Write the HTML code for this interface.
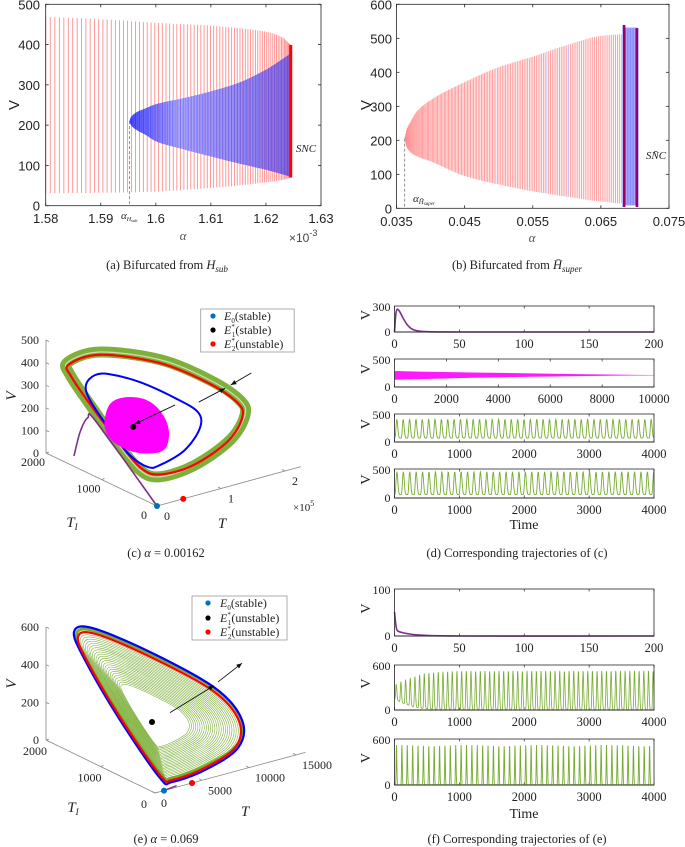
<!DOCTYPE html>
<html><head><meta charset="utf-8"><style>
html,body{margin:0;padding:0;background:#fff}
svg{display:block}
text{font-family:"Liberation Serif",serif}
.sans{font-family:"Liberation Sans",sans-serif}
</style></head><body>
<svg id="fig" xmlns="http://www.w3.org/2000/svg" width="685" height="847" viewBox="0 0 685 847"></svg>
<script>
// ---------- data: panel (a) ----------
const aKeys=[1.58,1.59,1.60,1.61,1.615,1.62,1.623,1.6245];
const aOuterHi=[469,463,454,447,441,432,418,399];
const aOuterLo=[31,32,35,44,50,58,64,70];
const aInnerKeys=[1.5952,1.5955,1.5965,1.598,1.60,1.605,1.61,1.615,1.62,1.6245];
const aInnerHi=[210,220,232,241,252,267,284,305,338,378];
const aInnerLo=[210,200,188,177,160,140,122,105,89,72];
const aXTicks=[1.58,1.59,1.60,1.61,1.62,1.63];
const aXTickLabels=["1.58","1.59","1.6","1.61","1.62","1.63"];
const aYTicks=[0,100,200,300,400,500];
// ---------- data: panel (b) ----------
const bKeys=[0.0362,0.0365,0.037,0.038,0.04,0.045,0.05,0.055,0.06,0.065,0.068];
const bHi=[205,232,252,285,318,371,415,446,480,507,512];
const bLo=[205,180,166,153,138,95,70,50,34,20,14];
const bBandA=[0.0684,0.0703];
const bBandHi=[539,530];
const bBandLo=[4,4];
const bXTicks=[0.035,0.045,0.055,0.065,0.075];
const bXTickLabels=["0.035","0.045","0.055","0.065","0.075"];
const bYTicks=[0,100,200,300,400,500,600];
// ---------- data: panel (c) (T in 1e5, TI in 1e3) ----------
const cGreenT=[0.04,0.52,1.10,1.50,1.71,1.73,1.49,0.99,0.57,0.39,0.30,0.17,0.03];
const cGreenTI=[1.65,1.63,1.21,0.78,0.48,0.41,0.40,0.46,0.60,0.76,1.10,1.40,1.60];
const cGreenV=[440,450,420,350,280,220,130,50,15,40,140,270,390];
const cRedT=[0.05,0.52,1.08,1.47,1.67,1.69,1.46,0.97,0.57,0.40,0.31,0.18,0.05];
const cRedTI=[1.65,1.63,1.21,0.78,0.48,0.41,0.40,0.46,0.60,0.76,1.10,1.40,1.60];
const cRedV=[428,438,408,340,272,215,128,52,25,50,145,268,380];
const cBlueT=[0.26,0.46,0.65,0.95,1.25,1.42,1.39,1.11,0.74,0.58,0.46,0.41,0.27];
const cBlueTI=[1.58,1.65,1.60,1.40,1.12,0.90,0.83,0.78,0.80,0.83,1.02,1.32,1.52];
const cBlueV=[330,350,345,310,250,200,140,70,30,30,70,150,270];
const cMagT=[0.46,0.56,0.76,0.96,1.10,1.13,1.00,0.80,0.61,0.46];
const cMagTI=[1.47,1.49,1.45,1.32,1.21,1.10,1.01,1.05,1.19,1.34];
const cMagV=[150,230,250,240,190,120,60,50,60,100];
const cPurT=[0.03,0.17,0.39,0.44,0];
const cPurTI=[1.53,1.58,1.70,1.60,0];
const cPurV=[40,130,160,150,0];
const cEqT=[0,0.80,0.41], cEqTI=[0,1.35,0], cEqV=[0,130,0];
const cArrowT=[[1.52,1.93],[2.34,2.02],[1.15,0.52]];
const cArrowV=[[225,254],[290,262],[241,205]];
const cVTicks=[0,100,200,300,400,500];
const cTITicks=[0,1,2], cTITickLabels=["0","1000","2000"];
const cTTicks=[0,1,2], cTTickLabels=["0","1","2"];
// ---------- data: panel (e) ----------
const eBlueT=[2532,4074,7043,9872,10915,9883,6117,2574,1915,2574,2787];
const eBlueTI=[1923,1858,1306,601,286,182,138,133,239,1086,1766];
const eBlueV=[550,560,470,340,200,80,20,5,20,200,420];
const eRedT=[2700,4100,6900,9600,10600,9650,6050,2700,2050,2650,2900];
const eRedTI=[1880,1820,1290,600,290,190,150,150,250,1060,1720];
const eRedV=[525,535,450,330,200,85,28,12,28,200,405];
const eEqT=[957,7137,3936], eEqTI=[0,1286,0], eEqV=[0,100,0];
const eArrowT=[[4495,9176],[9601,12154]];
const eArrowV=[[296,376],[390,455]];
const eSpiralScale=[0.42,0.97];
const eSpiralCount=[24];
const eVTicks=[0,200,400,600];
const eTITicks=[0,1000,2000];
const eTTicks=[0,5000,10000,15000];
// ---------- data: time series ----------
const d1T=[0,1,2,4,7,10,14,20,30,50,200];
const d1V=[0,200,262,235,150,80,30,8,2,0,0];
const d2T=[0,1000,3000,5000,7000,9000,10000];
const d2Hi=[285,275,260,245,230,218,215];
const d2Lo=[130,140,165,180,195,205,208];
const d3Period=[98], d3Peak=[406], d3Trough=[70];
const d4Period=[99], d4Peak=[453], d4Trough=[59];
const f1T=[0,1,2,5,10,20,50,200];
const f1V=[51,25,12,8,5,2,0,0];
const f2T=[0,100,200,300,400,600,1000,4000];
const f2Hi=[333,380,420,444,480,505,522,524];
const f2Lo=[156,100,70,44,25,10,5,4];
const f2Period=[72];
const f3Period=[83], f3Peak=[522], f3Trough=[3];

const NS="http://www.w3.org/2000/svg";
const svg=document.getElementById('fig');
function mk(tag,attrs,name,parent){
  const el=document.createElementNS(NS,tag);
  for(const k in attrs) el.setAttribute(k,attrs[k]);
  
  
  (parent||svg).appendChild(el);
  return el;
}
function txt(x,y,s,size,anchor,name,cls,extra){
  const a={x:x,y:y,'font-size':size,'text-anchor':anchor||'middle',fill:'#222'};
  if(cls) a['class']=cls;
  if(extra) for(const k in extra) a[k]=extra[k];
  const t=mk('text',a,name);
  t.textContent=s;
  return t;
}
function tspan(parent,s,attrs,name){
  const t=mk('tspan',attrs||{},name,parent);
  t.textContent=s;
  return t;
}
function interp(xs,ys,x){
  if(x<=xs[0]) return ys[0];
  for(let i=1;i<xs.length;i++){ if(x<=xs[i]){const f=(x-xs[i-1])/(xs[i]-xs[i-1]);return ys[i-1]+f*(ys[i]-ys[i-1]);} }
  return ys[ys.length-1];
}
// monotone cubic (PCHIP) interpolation for smooth envelopes
function pchip(xs,ys,x){
  const n=xs.length;
  if(x<=xs[0]) return ys[0]; if(x>=xs[n-1]) return ys[n-1];
  const h=[],d=[];
  for(let i=0;i<n-1;i++){h.push(xs[i+1]-xs[i]);d.push((ys[i+1]-ys[i])/h[i]);}
  const m=new Array(n);
  m[0]=d[0];m[n-1]=d[n-2];
  for(let i=1;i<n-1;i++){
    if(d[i-1]*d[i]<=0) m[i]=0;
    else {const w1=2*h[i]+h[i-1],w2=h[i]+2*h[i-1];m[i]=(w1+w2)/(w1/d[i-1]+w2/d[i]);}
  }
  let i=0; while(x>xs[i+1]) i++;
  const t=(x-xs[i])/h[i],t2=t*t,t3=t2*t;
  return (2*t3-3*t2+1)*ys[i]+(t3-2*t2+t)*h[i]*m[i]+(-2*t3+3*t2)*ys[i+1]+(t3-t2)*h[i]*m[i+1];
}
function line(x1,y1,x2,y2,st,w,name,extra){
  const a={x1:x1,y1:y1,x2:x2,y2:y2,stroke:st,'stroke-width':w};
  if(extra) for(const k in extra) a[k]=extra[k];
  return mk('line',a,name);
}
function crPath(pts,closed){
  const n=pts.length; let d='M'+pts[0][0].toFixed(2)+','+pts[0][1].toFixed(2);
  const get=i=> closed? pts[(i+n)%n] : pts[Math.max(0,Math.min(n-1,i))];
  const segs=closed?n:n-1;
  for(let i=0;i<segs;i++){
    const p0=get(i-1),p1=get(i),p2=get(i+1),p3=get(i+2);
    const c1=[p1[0]+(p2[0]-p0[0])/6,p1[1]+(p2[1]-p0[1])/6];
    const c2=[p2[0]-(p3[0]-p1[0])/6,p2[1]-(p3[1]-p1[1])/6];
    d+=' C'+c1[0].toFixed(2)+','+c1[1].toFixed(2)+' '+c2[0].toFixed(2)+','+c2[1].toFixed(2)+' '+p2[0].toFixed(2)+','+p2[1].toFixed(2);
  }
  return d+(closed?' Z':'');
}
function box(x0,y0,x1,y1,name){
  mk('rect',{x:x0,y:y0,width:x1-x0,height:y1-y0,fill:'none',stroke:'#262626','stroke-width':0.8},name);
}

// ================= Panel (a) =================
const axa=a=>45.7+(a-1.58)/0.05*275.3;
const aya=v=>205.7-v/500*201.4;
(function(){
  const N=80;
  for(let k=0;k<=N;k++){
    const a=1.6245-0.0445*Math.pow(1-k/N,1.5);
    line(axa(a),aya(pchip(aKeys,aOuterLo,a)),axa(a),aya(pchip(aKeys,aOuterHi,a)),'#ff3030',0.9,'a-red-line',{'stroke-opacity':0.55});
  }
  const g=mk('linearGradient',{id:'blueg',x1:'0',x2:'1',y1:'0',y2:'0'},'blue-gradient');
  mk('stop',{offset:'0','stop-color':'#1010ff'},'grad-stop',g);
  mk('stop',{offset:'0.3','stop-color':'#8c8cff'},'grad-stop',g);
  mk('stop',{offset:'1','stop-color':'#5a48e0'},'grad-stop',g);
  let pts=[];
  const a0=aInnerKeys[0],a1=aInnerKeys[aInnerKeys.length-1];
  for(let k=0;k<=80;k++){const a=a0+(a1-a0)*Math.pow(k/80,2);pts.push([axa(a),aya(pchip(aInnerKeys,aInnerHi,a))]);}
  for(let k=80;k>=0;k--){const a=a0+(a1-a0)*Math.pow(k/80,2);pts.push([axa(a),aya(pchip(aInnerKeys,aInnerLo,a))]);}
  mk('polygon',{points:pts.map(p=>p[0].toFixed(2)+','+p[1].toFixed(2)).join(' '),fill:'url(#blueg)','fill-opacity':0.75},'a-stable-cycle-region');
  const M=60;
  for(let k=0;k<=M;k++){
    const a=a0+(a1-a0)*Math.pow(k/M,1.2);
    line(axa(a),aya(pchip(aInnerKeys,aInnerLo,a)),axa(a),aya(pchip(aInnerKeys,aInnerHi,a)),'#2020ff',0.8,'a-blue-line',{'stroke-opacity':0.3});
  }
  line(axa(1.6245),aya(aOuterLo[aOuterLo.length-1]),axa(1.6245),aya(aOuterHi[aOuterHi.length-1]),'#ff0000',3,'a-snc-line');
  line(axa(a0),aya(210),axa(a0),205.7,'#777',0.8,'a-hopf-dash',{'stroke-dasharray':'3,2'});
  box(45.7,4.3,321,205.7,'a-plot-frame');
  aXTicks.forEach((t,i)=>{
    line(axa(t),205.7,axa(t),202.7,'#262626',0.8,'a-x-tick');
    line(axa(t),4.3,axa(t),7.3,'#262626',0.8,'a-x-tick');
    txt(axa(t),223,aXTickLabels[i],13,'middle','a-x-tick-label','sans');
  });
  aYTicks.forEach(v=>{
    line(45.7,aya(v),48.7,aya(v),'#262626',0.8,'a-y-tick');
    line(321,aya(v),318,aya(v),'#262626',0.8,'a-y-tick');
    txt(40,aya(v)+5,String(v),13,'end','a-y-tick-label','sans');
  });
  txt(14,110,'V',15,'middle','a-y-axis-title','sans',{transform:'rotate(-90 14 105)'});
  const al=txt(121,219,'α',11,'start','a-alpha-hsub-label',null,{'font-style':'italic'});
  tspan(al,'H',{'font-size':6,dy:2},'sub-H');tspan(al,'sub',{'font-size':4.5,dy:1},'sub-sub');
  txt(183,240,'α',13,'middle','a-x-axis-title',null,{'font-style':'italic',fill:'#555'});
  const xm=txt(289,242,'×10',12,'start','a-x-multiplier','sans',{fill:'#444'});
  tspan(xm,'-3',{'font-size':9,dy:-6},'exponent');
  txt(306,152,'SNC',11,'middle','a-snc-label',null,{'font-style':'italic'});
  const cap=txt(167,269,'(a)  Bifurcated from ',12.5,'middle','caption-a');
  tspan(cap,'H',{'font-style':'italic'},'caption-H');tspan(cap,'sub',{'font-size':9,'font-style':'italic',dy:3},'caption-sub');
})();

// ================= Panel (b) =================
const bxa=a=>396.5+(a-0.035)/0.04*272.5;
const bya=v=>208.3-v/600*204;
(function(){
  const N=140;
  const a0=bKeys[0],a1=bKeys[bKeys.length-1];
  for(let k=0;k<=N;k++){
    const a=a0+(a1-a0)*Math.pow(k/N,1.25);
    const blue=(k===70||k===100||k===112);
    line(bxa(a),bya(pchip(bKeys,bLo,a)),bxa(a),bya(pchip(bKeys,bHi,a)),blue?'#6a7aff':'#ff3030',0.9,'b-red-line',{'stroke-opacity':0.5});
  }
  const x0=bxa(bBandA[0]),x1=bxa(bBandA[1]);
  mk('rect',{x:x0,y:bya(532),width:x1-x0,height:bya(8)-bya(532),fill:'#9aa0ff','fill-opacity':0.8},'b-band-fill');
  for(let k=1;k<8;k++){const a=bBandA[0]+(bBandA[1]-bBandA[0])*k/8;
    line(bxa(a),bya(10),bxa(a),bya(530),'#3030ff',0.8,'b-band-blue-line',{'stroke-opacity':0.4});}
  bBandA.forEach((a,i)=>{
    line(bxa(a),bya(bBandLo[i]),bxa(a),bya(bBandHi[i]),'#0000ff',2.6,'b-band-edge');
    line(bxa(a),bya(bBandLo[i]),bxa(a),bya(bBandHi[i]),'#ff0000',1.2,'b-snc-line');
  });
  line(bxa(a0),bya(205),bxa(a0),208.3,'#777',0.8,'b-hopf-dash',{'stroke-dasharray':'3,2'});
  box(396.5,4.3,669,208.3,'b-plot-frame');
  bXTicks.forEach((t,i)=>{
    line(bxa(t),208.3,bxa(t),205.3,'#262626',0.8,'b-x-tick');
    line(bxa(t),4.3,bxa(t),7.3,'#262626',0.8,'b-x-tick');
    txt(bxa(t),226,bXTickLabels[i],13,'middle','b-x-tick-label','sans');
  });
  bYTicks.forEach(v=>{
    line(396.5,bya(v),399.5,bya(v),'#262626',0.8,'b-y-tick');
    line(669,bya(v),666,bya(v),'#262626',0.8,'b-y-tick');
    txt(392,bya(v)+5,String(v),13,'end','b-y-tick-label','sans');
  });
  txt(366,110,'V',15,'middle','b-y-axis-title','sans',{transform:'rotate(-90 366 105)'});
  const al=txt(413,202,'α',11,'start','b-alpha-hsuper-label',null,{'font-style':'italic'});
  tspan(al,'H̄',{'font-size':7,dy:2},'sub-H');tspan(al,'super',{'font-size':5,dy:1},'sub-super');
  txt(532,242,'α',13,'middle','b-x-axis-title',null,{'font-style':'italic',fill:'#555'});
  txt(656,159,'SN̄C',11,'middle','b-snc-label',null,{'font-style':'italic'});
  const cap=txt(517,269,'(b)  Bifurcated from ',12.5,'middle','caption-b');
  tspan(cap,'H̄',{'font-style':'italic'},'caption-H');tspan(cap,'super',{'font-size':9,'font-style':'italic',dy:3},'caption-sub');
})();

// ================= 3D helpers =================
function arrow(p,q,name){
  line(p[0],p[1],q[0],q[1],'#111',0.9,name);
  const ang=Math.atan2(q[1]-p[1],q[0]-p[0]),L=6,w=0.4;
  const a1=[q[0]-L*Math.cos(ang-w),q[1]-L*Math.sin(ang-w)],a2=[q[0]-L*Math.cos(ang+w),q[1]-L*Math.sin(ang+w)];
  mk('polygon',{points:q.join(',')+' '+a1.join(',')+' '+a2.join(','),fill:'#111'},name+'-head');
}
function legend(x,y,w,h,dotX,textX,rows,labels,name){
  mk('rect',{x:x,y:y,width:w,height:h,fill:'#fff',stroke:'#999','stroke-width':0.8},name);
  const cols=['#0072bd','#000','#ff0000'];
  rows.forEach((ry,i)=>{
    mk('circle',{cx:dotX,cy:ry,r:2.6,fill:cols[i]},'legend-marker');
    const t=txt(textX,ry+4,'',12,'start','legend-entry');
    tspan(t,'E',{'font-style':'italic'},'legend-E');
    if(i>0){tspan(t,'*',{'font-size':7,dy:-5},'legend-star');tspan(t,String(i),{'font-size':7,dx:-3,dy:8},'legend-sub');tspan(t,labels[i],{dy:-3},'legend-text');}
    else {tspan(t,'0',{'font-size':7,dy:3},'legend-sub');tspan(t,labels[i],{dy:-3},'legend-text');}
  });
}

// ================= Panel (c) =================
const pc=(T,TI,V)=>[157+64*T-55.5*TI,506-17.5*T-26.5*TI-0.226*V];
(function(){
  line(...pc(0,2,0),...pc(0,2,500),'#888',0.8,'c-v-axis');
  line(...pc(0,2,0),...pc(0,0,0),'#888',0.8,'c-ti-axis');
  line(...pc(0,0,0),...pc(2.25,0,0),'#888',0.8,'c-t-axis');
  cVTicks.forEach(v=>{const p=pc(0,2,v);line(p[0],p[1],p[0]+3,p[1]+1.5,'#888',0.8,'c-v-tick');txt(p[0]-7,p[1]+4,String(v),12,'end','c-v-tick-label');});
  cTITicks.forEach((t,i)=>{const p=pc(0,t,0);line(p[0],p[1],p[0]+3,p[1]-1,'#888',0.8,'c-ti-tick');txt(p[0]-13,p[1]+13,cTITickLabels[i],12,'middle','c-ti-tick-label');});
  cTTicks.forEach((t,i)=>{const p=pc(t,0,0);line(p[0],p[1],p[0]-3,p[1]-1.5,'#888',0.8,'c-t-tick');txt(p[0]+7,p[1]+14,cTTickLabels[i],12,'start','c-t-tick-label');});
  txt(12,400,'V',15,'middle','c-v-axis-title',null,{'font-style':'italic',transform:'rotate(-90 12 396)'});
  const tl=txt(72,527,'T',15,'middle','c-ti-axis-title',null,{'font-style':'italic'});tspan(tl,'I',{'font-size':9,dy:3},'sub-I');
  txt(222,528,'T',15,'middle','c-t-axis-title',null,{'font-style':'italic'});
  const xm=txt(293,511,'×10',11,'start','c-t-multiplier');tspan(xm,'5',{'font-size':8,dy:-5},'exponent');
  const G=cGreenT.map((t,i)=>pc(t,cGreenTI[i],cGreenV[i]));
  mk('path',{d:crPath(G,true),fill:'none',stroke:'#77ac30','stroke-width':11,'stroke-opacity':0.95},'c-green-band');
  mk('path',{d:crPath(G,true),fill:'none',stroke:'#fff','stroke-width':1.2,'stroke-opacity':0.6},'c-green-gap');
  const R=cRedT.map((t,i)=>pc(t,cRedTI[i],cRedV[i]));
  mk('path',{d:crPath(R,true),fill:'none',stroke:'#ff0000','stroke-width':2.2},'c-red-cycle');
  const B=cBlueT.map((t,i)=>pc(t,cBlueTI[i],cBlueV[i]));
  mk('path',{d:crPath(B,true),fill:'none',stroke:'#0000ff','stroke-width':2},'c-blue-cycle');
  const Mg=cMagT.map((t,i)=>pc(t,cMagTI[i],cMagV[i]));
  mk('path',{d:crPath(Mg,true),fill:'#ff00ff',stroke:'#ff00ff','stroke-width':1},'c-magenta-spiral');
  const P=cPurT.map((t,i)=>pc(t,cPurTI[i],cPurV[i]));
  mk('path',{d:crPath(P,false),fill:'none',stroke:'#7e2f8e','stroke-width':1.6},'c-purple-trajectory');
  cArrowT.forEach((ar,i)=>arrow(pc(ar[0],1,cArrowV[i][0]),pc(ar[1],1,cArrowV[i][1]),'c-arrow'));
  const cols=['#0072bd','#000','#ff0000'];
  cEqT.forEach((t,i)=>{const p=pc(t,cEqTI[i],cEqV[i]);mk('circle',{cx:p[0],cy:p[1],r:3,fill:cols[i]},'c-equilibrium');});
  legend(200.7,309,93.5,43,213,224,[316,330,344],['(stable)','(stable)','(unstable)'],'c-legend');
  const cap=txt(166,557,'(c)  ',12.5,'middle','caption-c');
  tspan(cap,'α',{'font-style':'italic'},'caption-alpha');tspan(cap,' = 0.00162',{},'caption-val');
})();

// ================= Panel (e) =================
const pe=(T,TI,V)=>[155+0.0094*T-0.0545*TI,793-0.00254*T-0.0265*TI-0.1883*V];
(function(){
  line(...pe(0,2000,0),...pe(0,2000,600),'#888',0.8,'e-v-axis');
  line(...pe(0,2000,0),...pe(0,0,0),'#888',0.8,'e-ti-axis');
  line(...pe(0,0,0),...pe(16000,0,0),'#888',0.8,'e-t-axis');
  eVTicks.forEach(v=>{const p=pe(0,2000,v);line(p[0],p[1],p[0]+3,p[1]+1.5,'#888',0.8,'e-v-tick');txt(p[0]-7,p[1]+4,String(v),12,'end','e-v-tick-label');});
  eTITicks.forEach(t=>{const p=pe(0,t,0);line(p[0],p[1],p[0]+3,p[1]-1,'#888',0.8,'e-ti-tick');txt(p[0]-11,p[1]+15,String(t),12,'middle','e-ti-tick-label');});
  eTTicks.forEach(t=>{const p=pe(t,0,0);line(p[0],p[1],p[0]-3,p[1]-1.5,'#888',0.8,'e-t-tick');txt(p[0]+6,p[1]+14,String(t),12,'start','e-t-tick-label');});
  txt(12,688,'V',15,'middle','e-v-axis-title',null,{'font-style':'italic',transform:'rotate(-90 12 684)'});
  const tl=txt(73,812,'T',15,'middle','e-ti-axis-title',null,{'font-style':'italic'});tspan(tl,'I',{'font-size':9,dy:3},'sub-I');
  txt(245,816,'T',15,'middle','e-t-axis-title',null,{'font-style':'italic'});
  const c=[eEqT[1],eEqTI[1],eEqV[1]];
  const n=eSpiralCount[0];
  for(let k=0;k<n;k++){
    const s=eSpiralScale[0]+(eSpiralScale[1]-eSpiralScale[0])*k/(n-1);
    const S=eRedT.map((t,i)=>pe(c[0]+s*(t-c[0]),c[1]+s*(eRedTI[i]-c[1]),c[2]+s*(eRedV[i]-c[2])));
    mk('path',{d:crPath(S,true),fill:'none',stroke:'#77ac30','stroke-width':0.55},'e-green-spiral');
  }
  const Gb=eRedT.map((t,i)=>pe(t*1.02,eRedTI[i]*1.02,eRedV[i]+10));
  mk('path',{d:crPath(Gb,true),fill:'none',stroke:'#77ac30','stroke-width':3},'e-green-outer');
  const B=eBlueT.map((t,i)=>pe(t,eBlueTI[i],eBlueV[i]));
  mk('path',{d:crPath(B,true),fill:'none',stroke:'#0000ff','stroke-width':2.2},'e-blue-cycle');
  const R=eRedT.map((t,i)=>pe(t,eRedTI[i],eRedV[i]));
  mk('path',{d:crPath(R,true),fill:'none',stroke:'#ff0000','stroke-width':2.2},'e-red-cycle');
  const p0=pe(eEqT[0],0,0),p1=pe(2300,0,8);
  line(p0[0],p0[1],p1[0],p1[1],'#7e2f8e',1.4,'e-purple-trajectory');
  eArrowT.forEach((ar,i)=>arrow(pe(ar[0],500,eArrowV[i][0]),pe(ar[1],500,eArrowV[i][1]),'e-arrow'));
  const cols=['#0072bd','#000','#ff0000'];
  eEqT.forEach((t,i)=>{const p=pe(t,eEqTI[i],eEqV[i]);mk('circle',{cx:p[0],cy:p[1],r:3,fill:cols[i]},'e-equilibrium');});
  legend(192,596,95,44,208,220,[603,618,632],['(stable)','(unstable)','(unstable)'],'e-legend');
  const cap=txt(166,843,'(e)  ',12.5,'middle','caption-e');
  tspan(cap,'α',{'font-style':'italic'},'caption-alpha');tspan(cap,' = 0.069',{},'caption-val');
})();

// ================= time series =================
function tsAxes(top,bot,xmax,ymax,xticks,name){
  const x0=394.5,x1=654;
  const sx=t=>x0+t/xmax*(x1-x0), sy=v=>bot-v/ymax*(bot-top);
  line(x0,bot,x1,bot,'#999',1.2,name+'-baseline');
  xticks.forEach(t=>{line(sx(t),bot,sx(t),bot-2.5,'#262626',0.7,name+'-x-tick');line(sx(t),top,sx(t),top+2.5,'#262626',0.7,name+'-x-tick');
    txt(sx(t),bot+16,String(t),12.5,'middle',name+'-x-tick-label');});
  txt(x0-4,top+5,String(ymax),12,'end',name+'-y-tick-label');
  txt(x0-4,bot+4,'0',12,'end',name+'-y-tick-label');
  txt(366,(top+bot)/2,'V',14,'middle',name+'-y-axis-title',null,{transform:'rotate(-90 366 '+((top+bot)/2-4)+')'});
  return {sx,sy,x0,x1,top,bot};
}
function frame(ax,name){box(ax.x0,ax.top,ax.x1,ax.bot,name);}
function oscPath(ax,xmax,period,hiF,loF,sharp,step){
  let d='';
  for(let px=ax.x0;px<=ax.x1;px+=step){
    const t=(px-ax.x0)/(ax.x1-ax.x0)*xmax;
    const ph=(t/period)%1;
    let s=Math.pow(0.5-0.5*Math.cos(2*Math.PI*Math.pow(ph,0.7)),sharp);
    const v=loF(t)+(hiF(t)-loF(t))*s;
    d+=(d?' L':'M')+px.toFixed(2)+','+ax.sy(v).toFixed(2);
  }
  return d;
}
// (d)
(function(){
  const ax=tsAxes(306,332,200,300,[0,50,100,150,200],'d1');
  mk('path',{d:crPath(d1T.map((t,i)=>[ax.sx(t),ax.sy(d1V[i])]),false),fill:'none',stroke:'#7e2f8e','stroke-width':1.6},'d1-purple-trajectory');
  frame(ax,'d1-frame');
  const ax2=tsAxes(359,387,10000,500,[0,2000,4000,6000,8000,10000],'d2');
  let pts=d2T.map((t,i)=>[ax2.sx(t),ax2.sy(d2Hi[i])]).concat(d2T.slice().reverse().map((t,i)=>[ax2.sx(t),ax2.sy(d2Lo[d2Lo.length-1-i])]));
  mk('polygon',{points:pts.map(p=>p.join(',')).join(' '),fill:'#ff00ff','fill-opacity':0.9},'d2-magenta-band');
  frame(ax2,'d2-frame');
  const ax3=tsAxes(414,442,4000,500,[0,1000,2000,3000,4000],'d3');
  mk('path',{d:oscPath(ax3,4000,d3Period[0],()=>d3Peak[0],()=>d3Trough[0],3,0.4),fill:'none',stroke:'#77ac30','stroke-width':0.9},'d3-green-trajectory');
  frame(ax3,'d3-frame');
  const ax4=tsAxes(469,498,4000,500,[0,1000,2000,3000,4000],'d4');
  mk('path',{d:oscPath(ax4,4000,d4Period[0],()=>d4Peak[0],()=>d4Trough[0],3,0.4),fill:'none',stroke:'#77ac30','stroke-width':0.9},'d4-green-trajectory');
  frame(ax4,'d4-frame');
  txt(524,529,'Time',14,'middle','d-x-axis-title');
  txt(517,557,'(d)  Corresponding trajectories of (c)',12.5,'middle','caption-d');
})();
// (f)
(function(){
  const ax=tsAxes(589,636,200,100,[0,50,100,150,200],'f1');
  mk('path',{d:crPath(f1T.map((t,i)=>[ax.sx(t),ax.sy(f1V[i])]),false),fill:'none',stroke:'#7e2f8e','stroke-width':1.6},'f1-purple-trajectory');
  frame(ax,'f1-frame');
  const ax2=tsAxes(665,710,4000,600,[0,1000,2000,3000,4000],'f2');
  mk('path',{d:oscPath(ax2,4000,f2Period[0],t=>interp(f2T,f2Hi,t),t=>interp(f2T,f2Lo,t),4,0.25),fill:'none',stroke:'#77ac30','stroke-width':0.8},'f2-green-trajectory');
  frame(ax2,'f2-frame');
  const ax3=tsAxes(739,785,4000,600,[0,1000,2000,3000,4000],'f3');
  mk('path',{d:oscPath(ax3,4000,f3Period[0],()=>f3Peak[0],()=>f3Trough[0],14,0.2),fill:'none',stroke:'#77ac30','stroke-width':0.9},'f3-green-trajectory');
  frame(ax3,'f3-frame');
  txt(524,818,'Time',14,'middle','f-x-axis-title');
  txt(517,843,'(f)  Corresponding trajectories of (e)',12.5,'middle','caption-f');
})();
</script>
</body></html>
